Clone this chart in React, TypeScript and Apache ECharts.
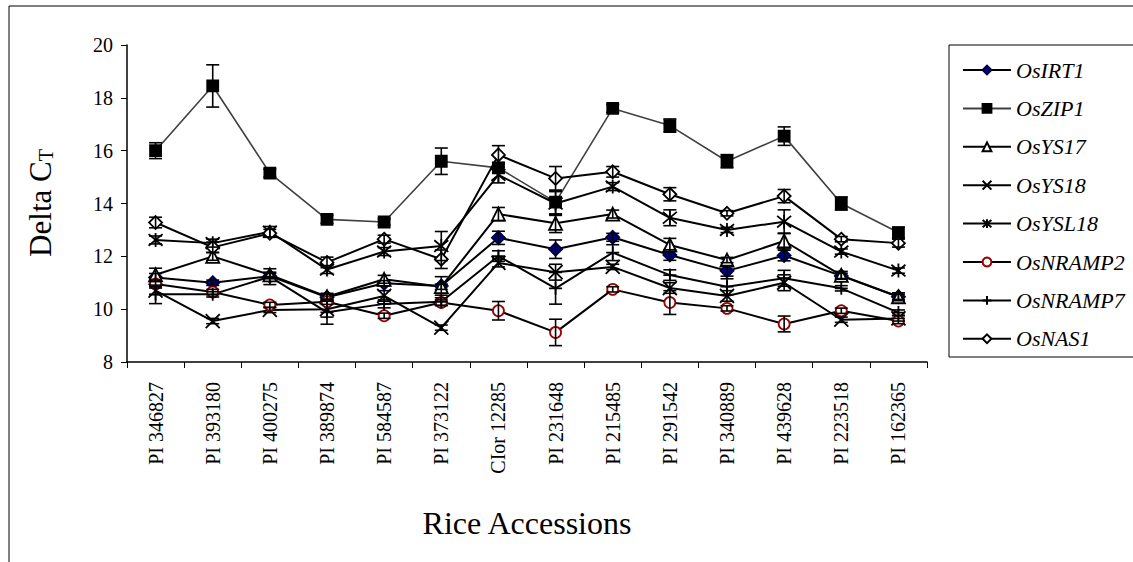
import React, { useEffect, useRef } from "react";
import * as echarts from "echarts";

const categories = [
  "PI 346827", "PI 393180", "PI 400275", "PI 389874", "PI 584587", "PI 373122", "CIor 12285",
  "PI 231648", "PI 215485", "PI 291542", "PI 340889", "PI 439628", "PI 223518", "PI 162365",
];

const osIRT1 = [11.2, 11.0, 11.25, 10.45, 10.98, 10.88, 12.7, 12.27, 12.72, 12.05, 11.45, 12.03, 11.26, 10.47];
const osZIP1 = [16.0, 18.45, 15.15, 13.4, 13.3, 15.6, 15.35, 14.05, 17.6, 16.95, 15.6, 16.55, 14.0, 12.9];
const osYS17 = [11.3, 12.0, 11.3, 10.47, 11.13, 10.85, 13.6, 13.25, 13.6, 12.43, 11.86, 12.58, 11.28, 10.47];
const osYS18 = [10.7, 9.55, 9.97, 10.0, 10.5, 9.3, 11.75, 11.4, 11.6, 10.8, 10.5, 11.0, 9.6, 9.65];
const osYSL18 = [12.62, 12.5, 12.93, 11.5, 12.18, 12.39, 15.08, 14.0, 14.64, 13.46, 13.0, 13.31, 12.18, 11.46];
const osNRAMP2 = [10.95, 10.65, 10.16, 10.28, 9.75, 10.25, 9.94, 9.12, 10.75, 10.25, 10.03, 9.44, 9.94, 9.55];
const osNRAMP7 = [10.56, 10.56, 11.23, 9.88, 10.2, 10.28, 12.01, 10.79, 12.14, 11.29, 10.85, 11.17, 10.79, 9.87];
const osNAS1 = [13.28, 12.34, 12.87, 11.77, 12.65, 11.89, 15.84, 14.95, 15.2, 14.35, 13.63, 14.28, 12.65, 12.5];

const errIRT1 = [0.15, 0.1, 0.1, 0.15, 0.1, 0.35, 0.25, 0.35, 0.15, 0.2, 0.2, 0.2, 0.1, 0.1];
const errZIP1 = [0.3, 0.8, 0.15, 0.15, 0.12, 0.5, 0.2, 0.45, 0.15, 0.25, 0.25, 0.35, 0.25, 0.2];
const errYS17 = [0.25, 0.15, 0.1, 0.1, 0.15, 0.1, 0.25, 0.35, 0.15, 0.25, 0.1, 0.3, 0.15, 0.15];
const errYS18 = [0.15, 0.1, 0.1, 0.3, 0.2, 0.1, 0.15, 0.3, 0.1, 0.2, 0.2, 0.3, 0.1, 0.1];
const errYSL18 = [0.15, 0.15, 0.2, 0.15, 0.15, 0.55, 0.3, 0.45, 0.15, 0.3, 0.1, 0.45, 0.1, 0.1];
const errNRAMP2 = [0.15, 0.1, 0.1, 0.1, 0.1, 0.1, 0.35, 0.5, 0.1, 0.45, 0.1, 0.3, 0.1, 0.1];
const errNRAMP7 = [0.35, 0.1, 0.3, 0.45, 0.15, 0.15, 0.2, 0.6, 0.3, 0.2, 0.3, 0.3, 0.1, 0.1];
const errNAS1 = [0.2, 0.2, 0.15, 0.2, 0.15, 0.35, 0.35, 0.45, 0.2, 0.25, 0.1, 0.25, 0.1, 0.15];

const yTicks = [8, 10, 12, 14, 16, 18, 20];

const SERIF = "'Liberation Serif', 'Times New Roman', serif";

const X_PATH = "path://M0,0L10,10M10,0L0,10";
const STAR_PATH = "path://M0,0L10,10M10,0L0,10M5,-1L5,11";
const PLUS_PATH = "path://M5,0L5,10M0,5L10,5";

type Spec = {
  name: string;
  data: number[];
  err: number[];
  symbol: string;
  size: number;
  fill: string;
  stroke: string;
  line: string;
  lineWidth: number;
};

const specs: Spec[] = [
  { name: "OsIRT1", data: osIRT1, err: errIRT1, symbol: "diamond", size: 13, fill: "#000080", stroke: "#000040", line: "#000", lineWidth: 2 },
  { name: "OsZIP1", data: osZIP1, err: errZIP1, symbol: "rect", size: 11, fill: "#000", stroke: "#000", line: "#404040", lineWidth: 1.6 },
  { name: "OsYS17", data: osYS17, err: errYS17, symbol: "triangle", size: 13, fill: "#fff", stroke: "#000", line: "#000", lineWidth: 2 },
  { name: "OsYS18", data: osYS18, err: errYS18, symbol: X_PATH, size: 14, fill: "#000", stroke: "#000", line: "#000", lineWidth: 2 },
  { name: "OsYSL18", data: osYSL18, err: errYSL18, symbol: STAR_PATH, size: 14, fill: "#000", stroke: "#000", line: "#000", lineWidth: 2 },
  { name: "OsNRAMP2", data: osNRAMP2, err: errNRAMP2, symbol: "circle", size: 11, fill: "#fff", stroke: "#990000", line: "#000", lineWidth: 2 },
  { name: "OsNRAMP7", data: osNRAMP7, err: errNRAMP7, symbol: PLUS_PATH, size: 13, fill: "#000", stroke: "#000", line: "#000", lineWidth: 2 },
  { name: "OsNAS1", data: osNAS1, err: errNAS1, symbol: "diamond", size: 13, fill: "#fff", stroke: "#000", line: "#000", lineWidth: 2 },
];

export default function App() {
  const ref = useRef<HTMLDivElement>(null);
  useEffect(() => {
    if (!ref.current) return;
    const chart = echarts.init(ref.current, undefined, { renderer: "svg" });

    const lineSeries = specs.map((s) => ({
      type: "line",
      name: s.name,
      data: s.data,
      symbol: s.symbol,
      symbolSize: s.size,
      showAllSymbol: true,
      z: 3,
      lineStyle: { color: s.line, width: s.lineWidth },
      itemStyle: { color: s.fill, borderColor: s.stroke, borderWidth: 1.8, opacity: 1 },
      emphasis: { disabled: true },
    }));

    const errSeries = specs.map((s) => ({
      type: "custom",
      name: "err-" + s.name,
      z: 4,
      data: s.data.map((v, i) => [i, v, s.err[i]]),
      encode: { x: 0, y: 1 },
      renderItem: (params: any, api: any) => {
        const i = api.value(0);
        const v = api.value(1);
        const e = api.value(2);
        const top = api.coord([i, v + e]);
        const bot = api.coord([i, v - e]);
        const hw = 6.5;
        const st = { stroke: "#000", lineWidth: 1.6 };
        return {
          type: "group",
          children: [
            { type: "line", shape: { x1: top[0], y1: top[1], x2: bot[0], y2: bot[1] }, style: st },
            { type: "line", shape: { x1: top[0] - hw, y1: top[1], x2: top[0] + hw, y2: top[1] }, style: st },
            { type: "line", shape: { x1: bot[0] - hw, y1: bot[1], x2: bot[0] + hw, y2: bot[1] }, style: st },
          ],
        };
      },
    }));

    chart.setOption({
      animation: false,
      grid: { left: 127, top: 45, width: 800, height: 317, containLabel: false },
      legend: {
        orient: "vertical",
        left: 957,
        top: 54,
        data: specs.map((s) => s.name),
        itemWidth: 48,
        itemHeight: 11,
        itemGap: 16.4,
        selectedMode: false,
        textStyle: { fontFamily: SERIF, fontStyle: "italic", fontSize: 22, color: "#000", lineHeight: 22 },
      },
      xAxis: {
        type: "category",
        data: categories,
        boundaryGap: true,
        axisLine: { lineStyle: { color: "#000", width: 1.5 } },
        axisTick: { show: true, length: 6, lineStyle: { color: "#000", width: 1 } },
        axisLabel: { rotate: 90, interval: 0, margin: 20, fontFamily: SERIF, fontSize: 20, color: "#000" },
        name: "Rice Accessions",
        nameLocation: "middle",
        nameGap: 145,
        nameTextStyle: { fontFamily: SERIF, fontSize: 32, color: "#000" },
      },
      yAxis: {
        type: "value",
        min: yTicks[0],
        max: yTicks[yTicks.length - 1],
        interval: 2,
        splitLine: { show: false },
        axisLine: { show: true, lineStyle: { color: "#000", width: 1.5 } },
        axisTick: { show: true, length: 6, lineStyle: { color: "#000" } },
        axisLabel: { fontFamily: SERIF, fontSize: 20, color: "#000", margin: 14 },
      },
      graphic: [
        { type: "rect", shape: { x: 9, y: 6, width: 1140, height: 600 }, style: { fill: "none", stroke: "#000", lineWidth: 1 }, silent: true },
        { type: "rect", shape: { x: 949, y: 45, width: 200, height: 312 }, style: { fill: "none", stroke: "#000", lineWidth: 1 }, silent: true },
        {
          type: "text",
          x: 40,
          y: 203,
          rotation: Math.PI / 2,
          style: {
            text: "{a|Delta C}{b|T}",
            align: "center",
            verticalAlign: "middle",
            rich: {
              a: { fontFamily: SERIF, fontSize: 31, fill: "#000", verticalAlign: "bottom" },
              b: { fontFamily: SERIF, fontSize: 20, fill: "#000", verticalAlign: "bottom", padding: [0, 0, 0, 0] },
            },
          },
          silent: true,
        },
      ],
      series: [...lineSeries, ...errSeries],
    });
    return () => chart.dispose();
  }, []);
  return (
    <div
      ref={ref}
      style={{ position: "fixed", left: 0, top: 0, width: 1133, height: 562, background: "#fff" }}
    />
  );
}
